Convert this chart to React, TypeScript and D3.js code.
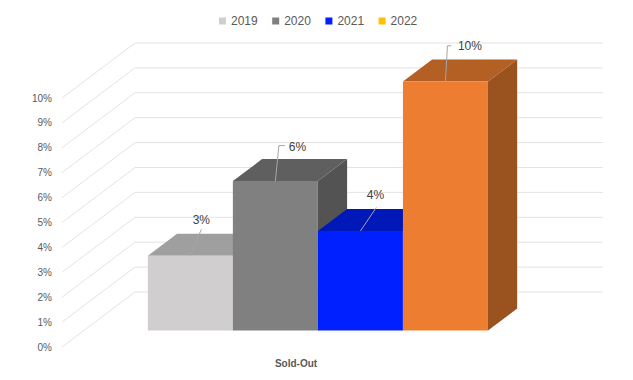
import React from "react";
import * as d3 from "d3";

const categories = ["Sold-Out"];
const seriesNames = ["2019", "2020", "2021", "2022"];
const values2019 = [0.03];
const values2020 = [0.06];
const values2021 = [0.04];
const values2022 = [0.10];
const seriesValues = [values2019, values2020, values2021, values2022];
const yTicks = [0, 0.01, 0.02, 0.03, 0.04, 0.05, 0.06, 0.07, 0.08, 0.09, 0.1];

const legendColors = ["#D0CECE", "#808080", "#0020FF", "#FFC000"];
const frontColors = ["#D0CECE", "#808080", "#0020FF", "#ED7D31"];
const topColors = ["#9F9F9F", "#5F5F5F", "#0018B8", "#B45F23"];
const sideColors = ["#9A9A9A", "#535353", "#0014A0", "#9A521F"];

// label placement relative to bar top-front centre
const labelOffsets = [
  { dx: 11, dy: -36, elbow: false, ex: 11, ey: -26.5 },
  { dx: 22, dy: -34.5, elbow: true, ex: 3.5, ey: -35.5 },
  { dx: 15, dy: -35.7, elbow: false, ex: 16, ey: -23.5 },
  { dx: 24.5, dy: -35.7, elbow: true, ex: 2, ey: -35.7 },
];

const W = 633;
const H = 380;
const FL = 62; // front plane left
const FR = 530; // front plane right
const DX = 73;
const DY = -55;
const Z0 = 0.3;
const Z1 = 0.7;

export default function App() {
  const y = d3.scaleLinear().domain([0, 0.1]).range([347, 98]);
  const proj = (x: number, v: number, z: number): [number, number] => [x + z * DX, y(v) + z * DY];
  const xBand = d3.scaleBand<string>().domain(categories).range([FL, FR]).paddingInner(0).paddingOuter(0.188);
  const inner = d3.scaleBand<string>().domain(seriesNames).range([0, xBand.bandwidth()]).padding(0);
  const pct = d3.format(".0%");
  const poly = (pts: [number, number][]) => pts.map((p) => p.join(",")).join(" ");
  const textColor = "#595959";
  const font = "'Liberation Sans', Arial, sans-serif";

  const bars: React.ReactNode[] = [];
  const labels: React.ReactNode[] = [];
  categories.forEach((cat, ci) => {
    seriesNames.forEach((s, si) => {
      const v = seriesValues[si][ci];
      const x0 = (xBand(cat) as number) + (inner(s) as number);
      const x1 = x0 + inner.bandwidth();
      const front = [proj(x0, 0, Z0), proj(x1, 0, Z0), proj(x1, v, Z0), proj(x0, v, Z0)];
      const top = [proj(x0, v, Z0), proj(x1, v, Z0), proj(x1, v, Z1), proj(x0, v, Z1)];
      const side = [proj(x1, 0, Z0), proj(x1, 0, Z1), proj(x1, v, Z1), proj(x1, v, Z0)];
      bars.push(
        <g key={`bar-${cat}-${s}`}>
          <polygon points={poly(side)} fill={sideColors[si]} />
          <polygon points={poly(top)} fill={topColors[si]} />
          <polygon points={poly(front)} fill={frontColors[si]} />
        </g>
      );
      const [ax, ay] = proj((x0 + x1) / 2, v, Z0);
      const o = labelOffsets[si];
      const lx = ax + o.dx;
      const ly = ay + o.dy;
      const leader = o.elbow
        ? `M${ax},${ay}L${ax + o.ex},${ay + o.ey}L${lx - (v >= 0.1 ? 18.5 : 12.5)},${ay + o.ey}`
        : `M${ax},${ay}L${ax + o.ex},${ay + o.ey}`;
      labels.push(
        <g key={`lab-${cat}-${s}`}>
          <path d={leader} fill="none" stroke="#A6A6A6" strokeWidth={1} />
          <text x={lx} y={ly} dy="0.35em" textAnchor="middle" fontSize={12} fill="#404040" fontFamily={font}>
            {pct(v)}
          </text>
        </g>
      );
    });
  });

  return (
    <svg width={W} height={H} style={{ position: "absolute", left: 0, top: 0, background: "#fff" }}>
      <rect x={0} y={0} width={W} height={H} fill="#fff" />
      {/* gridlines */}
      <g stroke="#E3E3E3" strokeWidth={1} fill="none">
        {yTicks.map((t) => {
          const a = proj(FL, t, 0);
          const b = proj(FL, t, 1);
          const c = proj(FR, t, 1);
          return <path key={`g-${t}`} d={`M${a[0]},${a[1]}L${b[0]},${b[1]}L${c[0]},${c[1]}`} />;
        })}
      </g>
      {/* y axis labels */}
      <g>
        {yTicks.map((t) => (
          <text key={`yl-${t}`} x={FL - 10} y={y(t)} dy="0.35em" textAnchor="end" fontSize={10} fill={textColor} fontFamily={font}>
            {pct(t)}
          </text>
        ))}
      </g>
      {bars}
      {labels}
      {/* category label */}
      {categories.map((cat) => (
        <text key={`cat-${cat}`} x={(xBand(cat) as number) + xBand.bandwidth() / 2} y={367} textAnchor="middle" fontSize={10} fontWeight="bold" fill={textColor} fontFamily={font}>
          {cat}
        </text>
      ))}
      {/* legend */}
      <g>
        {seriesNames.map((s, i) => {
          const lx = 219 + i * 53.2;
          return (
            <g key={`leg-${s}`}>
              <rect x={lx} y={17.5} width={7} height={7} fill={legendColors[i]} />
              <text x={lx + 12} y={25} fontSize={12} fill={textColor} fontFamily={font}>
                {s}
              </text>
            </g>
          );
        })}
      </g>
    </svg>
  );
}
